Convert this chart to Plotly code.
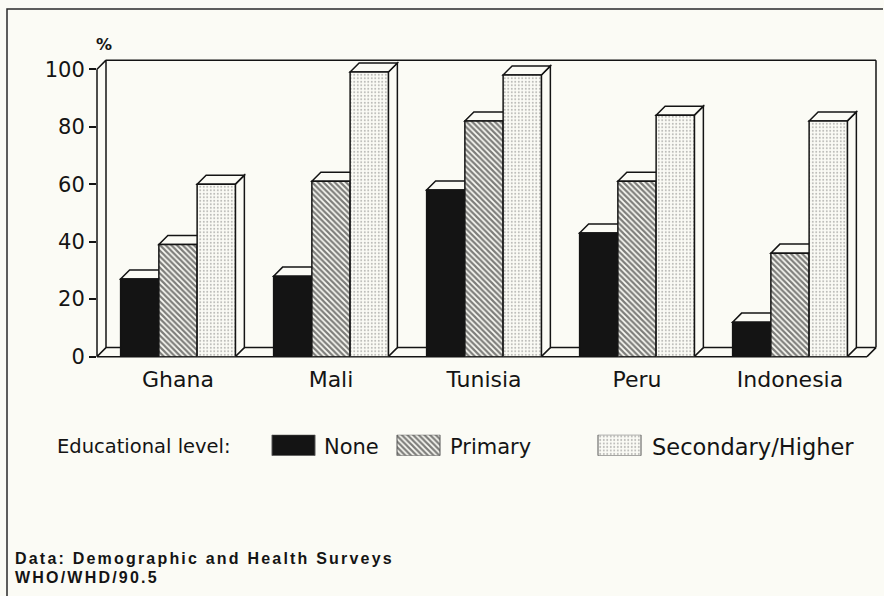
import plotly.graph_objects as go

# Percentages by country and educational level
countries = ["Ghana", "Mali", "Tunisia", "Peru", "Indonesia"]
none_pct = [27, 28, 58, 43, 12]
primary_pct = [39, 61, 82, 61, 36]
secondary_pct = [60, 99, 98, 84, 82]
levels = ["None", "Primary", "Secondary/Higher"]
y_ticks = [0, 20, 40, 60, 80, 100]

# Figure geometry (pixels)
W, H = 884, 609
PLOT_L, PLOT_R, PLOT_T, PLOT_B = 97, 876, 53.1, 363.8
UNIT_X = 153.0          # pixels per category
UNIT_Y = 2.9325         # pixels per percentage point
X_MIN = -0.5294
X_MAX = X_MIN + (PLOT_R - PLOT_L) / UNIT_X
Y_MAX = (PLOT_B - PLOT_T) / UNIT_Y
DX = 9 / UNIT_X
DY = 9.2 / UNIT_Y
BAR_W = 0.25
OFFSETS = [-0.375, -0.125, 0.125]

INK = "#141414"
PAPER = "#fbfbf5"
FONT = "DejaVu Sans"
FOOT_FONT = "Liberation Sans"

bar_styles = [
    dict(color=INK),
    dict(color=PAPER, pattern=dict(shape="\\", fgcolor="#000000", bgcolor=PAPER,
                                   size=4, solidity=0.55)),
    dict(color=PAPER, pattern=dict(shape=".", fgcolor="#7a7a7a", bgcolor=PAPER,
                                   size=3.5, solidity=0.25)),
]

fig = go.Figure()

x_idx = list(range(len(countries)))
series = [none_pct, primary_pct, secondary_pct]

for name, vals, off, style in zip(levels, series, OFFSETS, bar_styles):
    fig.add_trace(go.Bar(
        x=x_idx, y=vals, width=BAR_W, offset=off, name=name,
        marker=dict(line=dict(color=INK, width=1.5), **style),
        showlegend=False, hoverinfo="skip",
    ))


def paper_x(x):
    return (PLOT_L + (x - X_MIN) * UNIT_X) / W


def paper_y(y):
    return 1 - (PLOT_B - y * UNIT_Y) / H


def px_x(px):
    return px / W


def px_y(py):
    return 1 - py / H


shapes = []

# Box outline: front axes, back wall and floor
xl, xr = X_MIN, X_MAX
segments = [
    ((xl, 0), (xl, 100)),
    ((xl, 100), (xl + DX, 100 + DY)),
    ((xl + DX, DY), (xl + DX, 100 + DY)),
    ((xl, 0), (xl + DX, DY)),
    ((xl + DX, 100 + DY), (xr, 100 + DY)),
    ((xr, DY), (xr, 100 + DY)),
    ((xl, 0), (xr - DX, 0)),
    ((xl + DX, DY), (xr, DY)),
    ((xr - DX, 0), (xr, DY)),
]
path = " ".join(
    f"M{paper_x(a[0]):.5f},{paper_y(a[1]):.5f} L{paper_x(b[0]):.5f},{paper_y(b[1]):.5f}"
    for a, b in segments
)
shapes.append(dict(type="path", xref="paper", yref="paper", path=path,
                   line=dict(color=INK, width=1.5), layer="below"))

# Page frame (kept inside the figure bounds)
frame = (f"M{px_x(7):.5f},{px_y(H):.5f} L{px_x(7):.5f},{px_y(9.2):.5f} "
         f"L{px_x(W - 1):.5f},{px_y(9.2):.5f}")
shapes.append(dict(type="path", xref="paper", yref="paper", path=frame,
                   line=dict(color="#2a2a2a", width=1.5), layer="below"))

# Top and side faces giving each bar its depth
for vals, off in zip(series, OFFSETS):
    for i, v in zip(x_idx, vals):
        x0 = i + off
        x1 = x0 + BAR_W
        top = (f"M{x0},{v} L{x1},{v} L{x1 + DX},{v + DY} "
               f"L{x0 + DX},{v + DY} Z")
        side = (f"M{x1},0 L{x1 + DX},{DY} L{x1 + DX},{v + DY} "
                f"L{x1},{v} Z")
        for p in (side, top):
            shapes.append(dict(type="path", xref="x", yref="y", path=p,
                               fillcolor=PAPER, layer="below",
                               line=dict(color=INK, width=1.5)))

# Legend swatches on their own small axes
swatch_left = [272, 397, 598]
swatch_w = 43
LEG_TOP, LEG_BOT, LEG_MID = 443.5, 465.0, 455.7
for name, left, style in zip(levels, swatch_left, bar_styles):
    fig.add_trace(go.Bar(
        x=[left], y=[1], base=0, width=swatch_w, offset=0,
        xaxis="x2", yaxis="y2", name=name,
        marker=dict(line=dict(color="#555555", width=1), **style),
        showlegend=False, hoverinfo="skip",
    ))


def tracked(text, spacing):
    return f"<span style='letter-spacing:{spacing}px'>{text}</span>"


annotations = [
    dict(text="%", x=px_x(104), y=px_y(45), xanchor="center", yanchor="middle",
         font=dict(family=FONT, size=16, color=INK, weight="bold")),
    dict(text="Educational level:", x=px_x(55), y=px_y(LEG_MID), xanchor="left",
         yanchor="middle", font=dict(family=FONT, size=19.5, color=INK)),
]
label_left = [322, 448, 650]
label_size = [21, 21, 22.5]
for name, left, size in zip(levels, label_left, label_size):
    annotations.append(dict(text=name, x=px_x(left), y=px_y(LEG_MID),
                            xanchor="left", yanchor="middle",
                            font=dict(family=FONT, size=size, color=INK)))
annotations += [
    dict(text=tracked("Data: Demographic and Health Surveys", 2.2),
         x=px_x(13), y=px_y(570.2), xanchor="left", yanchor="middle",
         font=dict(family=FOOT_FONT, size=16, color=INK, weight="bold")),
    dict(text=tracked("WHO/WHD/90.5", 2.2),
         x=px_x(13), y=px_y(588.6), xanchor="left", yanchor="middle",
         font=dict(family=FOOT_FONT, size=16, color=INK, weight="bold")),
]
for a in annotations:
    a.update(xref="paper", yref="paper", showarrow=False)

fig.update_layout(
    width=W, height=H,
    margin=dict(l=0, r=0, t=0, b=0),
    paper_bgcolor=PAPER,
    plot_bgcolor="rgba(0,0,0,0)",
    barmode="overlay",
    shapes=shapes,
    annotations=annotations,
    xaxis=dict(domain=[PLOT_L / W, PLOT_R / W], range=[X_MIN, X_MAX],
               tickvals=x_idx, ticktext=countries, ticks="",
               ticklabelstandoff=7,
               showgrid=False, zeroline=False, showline=False,
               tickfont=dict(family=FONT, size=22, color=INK),
               fixedrange=True),
    yaxis=dict(domain=[1 - PLOT_B / H, 1 - PLOT_T / H], range=[0, Y_MAX],
               tickvals=y_ticks, ticks="outside", ticklen=7, tickwidth=1.5,
               tickcolor=INK, showgrid=False, zeroline=False, showline=False,
               tickfont=dict(family=FONT, size=21, color=INK),
               fixedrange=True),
    xaxis2=dict(domain=[0, 1], range=[0, W], visible=False, anchor="y2",
                fixedrange=True),
    yaxis2=dict(domain=[1 - LEG_BOT / H, 1 - LEG_TOP / H], range=[0, 1],
                visible=False, anchor="x2", fixedrange=True),
)

fig.write_html("out.html")
